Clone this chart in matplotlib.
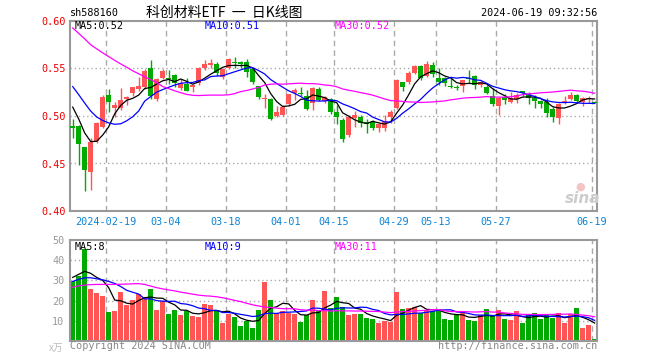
import numpy as np
import pandas as pd
import matplotlib
matplotlib.use("Agg")
import matplotlib.pyplot as plt

W, H = 660, 360

# daily OHLC, 2024-02-01 .. 2024-06-19 (88 trading days)
opens = [0.490, 0.489, 0.467, 0.441, 0.474, 0.4888, 0.522, 0.508, 0.508, 0.5178,
         0.5237, 0.528, 0.530, 0.550, 0.5175, 0.540, 0.540, 0.543, 0.529, 0.534,
         0.531, 0.5346, 0.551, 0.554, 0.555, 0.541, 0.551, 0.557, 0.557, 0.557,
         0.549, 0.5315, 0.518, 0.518, 0.4995, 0.501, 0.5126, 0.5245, 0.524, 0.521,
         0.5135, 0.528, 0.516, 0.518, 0.5045, 0.4958, 0.480, 0.4982, 0.4993, 0.4935,
         0.4935, 0.4878, 0.4872, 0.4993, 0.508, 0.5353, 0.536, 0.5453, 0.5524, 0.5422,
         0.5535, 0.5395, 0.540, 0.532, 0.5305, 0.532, 0.540, 0.542, 0.533, 0.531,
         0.5213, 0.5108, 0.520, 0.5143, 0.5178, 0.5262, 0.5227, 0.5185, 0.5157, 0.515,
         0.5073, 0.4982, 0.5133, 0.5178, 0.522, 0.515, 0.5175, 0.515]
highs = [0.497, 0.490, 0.467, 0.477, 0.494, 0.522, 0.5286, 0.515, 0.529, 0.5215,
         0.531, 0.541, 0.549, 0.5586, 0.5405, 0.549, 0.548, 0.544, 0.539, 0.540,
         0.534, 0.552, 0.559, 0.560, 0.557, 0.551, 0.5615, 0.562, 0.558, 0.5595,
         0.551, 0.532, 0.5235, 0.5185, 0.510, 0.5115, 0.5235, 0.529, 0.531, 0.527,
         0.5305, 0.531, 0.5215, 0.5185, 0.5115, 0.498, 0.501, 0.5053, 0.5015, 0.4968,
         0.496, 0.4925, 0.5013, 0.5063, 0.539, 0.5355, 0.547, 0.5535, 0.5535, 0.5575,
         0.557, 0.5505, 0.541, 0.541, 0.533, 0.538, 0.548, 0.5435, 0.537, 0.533,
         0.529, 0.520, 0.5228, 0.5255, 0.5237, 0.5262, 0.5255, 0.522, 0.517, 0.5192,
         0.5097, 0.5133, 0.5213, 0.5255, 0.5228, 0.520, 0.5213, 0.5155]
lows = [0.477, 0.448, 0.421, 0.422, 0.472, 0.487, 0.504, 0.499, 0.506, 0.512,
        0.521, 0.5265, 0.5285, 0.518, 0.516, 0.539, 0.534, 0.531, 0.527, 0.526,
        0.525, 0.533, 0.548, 0.550, 0.542, 0.539, 0.549, 0.551, 0.5505, 0.541,
        0.534, 0.518, 0.508, 0.496, 0.499, 0.4995, 0.511, 0.5165, 0.521, 0.506,
        0.506, 0.5155, 0.514, 0.502, 0.4915, 0.473, 0.478, 0.4888, 0.4888, 0.482,
        0.4855, 0.4835, 0.4845, 0.4925, 0.507, 0.526, 0.534, 0.544, 0.5375, 0.541,
        0.541, 0.5325, 0.5315, 0.529, 0.5275, 0.525, 0.535, 0.528, 0.530, 0.523,
        0.5105, 0.501, 0.5122, 0.5133, 0.5133, 0.521, 0.5122, 0.5087, 0.5087, 0.4993,
        0.494, 0.4913, 0.5122, 0.5173, 0.515, 0.5108, 0.514, 0.514]
closes = [0.487, 0.471, 0.4435, 0.4725, 0.4927, 0.520, 0.5143, 0.512, 0.5165, 0.520,
          0.530, 0.5315, 0.547, 0.521, 0.5387, 0.547, 0.539, 0.535, 0.535, 0.5265,
          0.532, 0.551, 0.5545, 0.556, 0.545, 0.5495, 0.5605, 0.5555, 0.555, 0.546,
          0.536, 0.520, 0.519, 0.497, 0.504, 0.510, 0.523, 0.5275, 0.523, 0.507,
          0.530, 0.517, 0.520, 0.5045, 0.4993, 0.476, 0.4993, 0.501, 0.4924, 0.4915,
          0.4878, 0.4913, 0.4945, 0.5039, 0.5377, 0.530, 0.5453, 0.5524, 0.5405, 0.5545,
          0.5447, 0.536, 0.535, 0.5305, 0.5295, 0.5377, 0.539, 0.533, 0.5355, 0.5238,
          0.5123, 0.5185, 0.5168, 0.5185, 0.522, 0.5238, 0.5192, 0.5157, 0.5122, 0.5028,
          0.4993, 0.5122, 0.5157, 0.522, 0.516, 0.5185, 0.5192, 0.514]
# volume, 10k shares
volumes = [29.7, 32.3, 45.6, 25.9, 23.9, 22.4, 14.3, 14.8, 24.2, 17.9,
           20.2, 23.2, 21.7, 25.9, 15.3, 19.7, 13.4, 15.3, 12.9, 14.8,
           12.3, 11.8, 18.3, 17.8, 15.3, 9.0, 13.4, 11.8, 7.3, 10.0,
           6.3, 15.3, 29.2, 20.2, 13.8, 14.8, 13.9, 13.3, 9.3, 12.8,
           20.2, 14.8, 24.7, 16.4, 21.9, 16.9, 13.1, 13.4, 13.4, 11.3,
           10.8, 9.0, 10.0, 9.5, 24.4, 15.9, 16.4, 16.9, 13.9, 15.3,
           14.9, 15.9, 10.8, 10.3, 13.4, 14.4, 10.3, 10.0, 12.8, 15.9,
           12.4, 15.3, 10.8, 10.3, 14.8, 9.0, 12.9, 13.8, 10.8, 12.8,
           11.3, 13.8, 9.0, 13.3, 16.3, 6.3, 7.8, 0.8]

# moving-average values at the left edge (history before the window)
ma5_head = [0.5094, 0.4969, 0.4822, 0.4731]
ma10_head = [0.531, 0.5225, 0.5136, 0.5052, 0.499, 0.4953, 0.4927, 0.4913, 0.4918]
ma30_head = [0.5927, 0.587, 0.5812, 0.575, 0.5707, 0.5665, 0.5625, 0.5586, 0.5548, 0.5513,
             0.5476, 0.5444, 0.5414, 0.5382, 0.5353, 0.531, 0.5288, 0.5265, 0.5246, 0.5227,
             0.5218, 0.5215, 0.5218, 0.522, 0.522, 0.522, 0.5223, 0.5236, 0.5257]
vma5_head = [31.5, 33.0, 34.5, 33.5]
vma10_head = [29.5, 30.5, 31.3, 31.3, 30.8, 30.3, 29.5, 28.5, 27.0]
vma30_head = [26.6, 27.3, 27.7, 27.9, 28.0, 28.0, 28.0, 28.0, 28.1, 28.2,
              28.3, 28.4, 28.0, 27.2, 26.4, 25.8, 25.3, 24.8, 24.2, 23.7,
              23.2, 22.7, 22.4, 22.2, 21.9, 21.4, 20.8, 20.1, 19.5]

tick_pos = [6, 16, 26, 36, 44, 54, 61, 71, 87]
tick_lbl = ["2024-02-19", "03-04", "03-18", "04-01", "04-15", "04-29", "05-13", "05-27", "06-19"]
price_ticks = [0.40, 0.45, 0.50, 0.55, 0.60]
vol_ticks = [10, 20, 30, 40, 50]
price_legend = ["MA5:0.52", "MA10:0.51", "MA30:0.52"]
vol_legend = ["MA5:8", "MA10:9", "MA30:11"]

RED = "#ff5555"
GREEN = "#00aa00"
GRID = "#aaaaaa"
FRAME = "#999999"
MA_COLORS = ["black", "#0000ff", "#ff00ff"]
MONO = "DejaVu Sans Mono"
CJK = ["Noto Sans CJK SC", "DejaVu Sans"]


def moving_avg(vals, n, head):
    s = pd.Series(vals).rolling(n).mean().to_numpy()
    s[:len(head)] = head
    return s


def fpos(x, y):
    return x / W, 1 - y / H


opens = np.array(opens)
closes = np.array(closes)
highs = np.array(highs)
lows = np.array(lows)
volumes = np.array(volumes)
x = np.arange(len(closes))
colors = np.where(closes >= opens, RED, GREEN)

fig = plt.figure(figsize=(W / 100, H / 100), dpi=100)
ax = fig.add_axes([70 / W, 1 - 211 / H, 527 / W, 190 / H])
vax = fig.add_axes([70 / W, 1 - 341 / H, 527 / W, 101 / H])

for a in (ax, vax):
    a.set_xlim(-0.45, 87.4)
    for p in tick_pos:
        a.axvline(p - 0.42, color=GRID, lw=1, ls=(0, (4, 3)), zorder=0)
    for s in a.spines.values():
        s.set_color(FRAME)
        s.set_linewidth(1.5)
    a.tick_params(length=0)

# price panel
ax.set_ylim(0.40, 0.60)
for v in price_ticks[1:-1]:
    ax.axhline(v, color=GRID, lw=1, ls=(0, (1, 2)), zorder=0)
ax.vlines(x, lows, highs, colors=colors, lw=1, zorder=2)
body_bot = np.minimum(opens, closes)
body_h = np.maximum(np.abs(closes - opens), 0.0012)
ax.bar(x, body_h, bottom=body_bot, width=0.83, color=colors, lw=0, zorder=3)
for n, head, c in zip([5, 10, 30], [ma5_head, ma10_head, ma30_head], MA_COLORS):
    ax.plot(x, moving_avg(closes, n, head), color=c, lw=0.9, zorder=4)

ax.set_yticks(price_ticks)
ax.set_yticklabels(["%.2f" % v for v in price_ticks], color="#ee0000", family=MONO, fontsize=7.3)
ax.set_xticks([p - 0.42 for p in tick_pos])
ax.set_xticklabels(tick_lbl, color="#0a84d6", family=MONO, fontsize=7.3)
ax.tick_params(axis="y", pad=3)
ax.tick_params(axis="x", pad=4.5)

# volume panel
vax.set_ylim(0, 50)
for v in vol_ticks[:-1]:
    vax.axhline(v, color=GRID, lw=1, ls=(0, (1, 2)), zorder=0)
vax.bar(x, volumes, width=0.83, color=colors, lw=0, zorder=2)
for n, head, c in zip([5, 10, 30], [vma5_head, vma10_head, vma30_head], MA_COLORS):
    vax.plot(x, moving_avg(volumes, n, head), color=c, lw=0.9, zorder=4)
vax.set_yticks(vol_ticks)
vax.set_yticklabels([str(v) for v in vol_ticks], color="#999999", family=MONO, fontsize=7.3)
vax.set_xticks([])
vax.tick_params(axis="y", pad=4)

# legends
for i, (t, c) in enumerate(zip(price_legend, MA_COLORS)):
    fig.text(*fpos(75 + 130 * i, 26), t, color=c, family=MONO, fontsize=7.3, va="center")
for i, (t, c) in enumerate(zip(vol_legend, MA_COLORS)):
    fig.text(*fpos(75 + 130 * i, 247), t, color=c, family=MONO, fontsize=7.3, va="center")

# header and footer
fig.text(*fpos(70, 13), "sh588160", family=MONO, fontsize=7.3, va="center")
fig.text(*fpos(224, 13), "科创材料ETF  一  日K线图", family=CJK,
         fontsize=10, va="center", ha="center")
fig.text(*fpos(597, 13), "2024-06-19 09:32:56", family=MONO, fontsize=7.3, va="center", ha="right")
fig.text(*fpos(70, 346), "Copyright 2024 SINA.COM", color="#888888", family=MONO, fontsize=7.3, va="center")
fig.text(*fpos(597, 346), "http://finance.sina.com.cn", color="#888888", family=MONO, fontsize=7.3,
         va="center", ha="right")
fig.text(*fpos(63, 348), "x万", color="#bbbbbb", family=CJK, fontsize=7, va="center", ha="right")
fig.text(*fpos(583, 198), "sina", color="#cccccc", family="DejaVu Sans", fontsize=11,
         style="italic", weight="bold", va="center", ha="center")
fig.text(*fpos(580, 187), "●", color="#f3c4c4", family="DejaVu Sans", fontsize=8, va="center", ha="center")

fig.savefig("out.png", dpi=100)
